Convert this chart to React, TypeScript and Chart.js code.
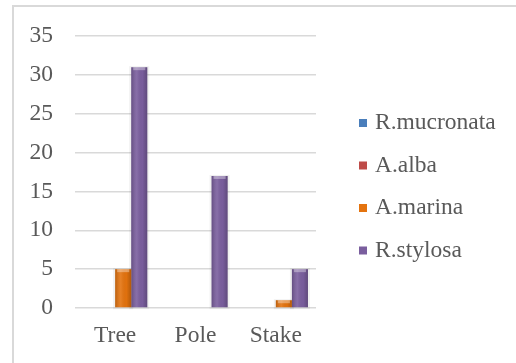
import React, { useEffect, useRef } from "react";
import { Chart, registerables } from "chart.js";

Chart.register(...registerables);

const categories = ["Tree", "Pole", "Stake"];
const seriesNames = ["R.mucronata", "A.alba", "A.marina", "R.stylosa"];
const rMucronata = [0, 0, 0];
const aAlba = [0, 0, 0];
const aMarina = [5, 0, 1];
const rStylosa = [31, 17, 5];
const yTicks = [0, 5, 10, 15, 20, 25, 30, 35];

const colors = ["#4A7EBB", "#BE4B48", "#E4730E", "#7A5E9E"];
const FONT = '"Liberation Serif", "Times New Roman", serif';
const TEXT = "#595959";
const FS = 23.5;

const framePlugin = {
  id: "frame",
  beforeDraw(chart: any) {
    const ctx = chart.ctx;
    ctx.save();
    ctx.fillStyle = "#ffffff";
    ctx.fillRect(0, 0, chart.width, chart.height);
    ctx.strokeStyle = "#d9d9d9";
    ctx.lineWidth = 2;
    ctx.strokeRect(13, 6, chart.width + 20, chart.height + 20);
    ctx.restore();
  },
};

const shadePlugin = {
  id: "shade",
  beforeDatasetsDraw(chart: any) {
    const ctx = chart.ctx;
    ctx.save();
    chart.data.datasets.forEach((_ds: any, i: number) => {
      const meta = chart.getDatasetMeta(i);
      meta.data.forEach((bar: any) => {
        const h = bar.base - bar.y;
        if (h <= 0.5) return;
        const l = bar.x - bar.width / 2;
        ctx.fillStyle = "rgba(0,0,0,0.06)";
        ctx.fillRect(l - 2, bar.y - 1, bar.width + 4, h + 3);
      });
    });
    ctx.restore();
  },
  afterDatasetsDraw(chart: any) {
    const ctx = chart.ctx;
    ctx.save();
    chart.data.datasets.forEach((_ds: any, i: number) => {
      const meta = chart.getDatasetMeta(i);
      meta.data.forEach((bar: any) => {
        const h = bar.base - bar.y;
        if (h <= 0.5) return;
        const l = bar.x - bar.width / 2;
        const g = ctx.createLinearGradient(l, 0, l + bar.width, 0);
        g.addColorStop(0, "rgba(0,0,0,0.18)");
        g.addColorStop(0.35, "rgba(255,255,255,0.10)");
        g.addColorStop(0.7, "rgba(0,0,0,0.02)");
        g.addColorStop(1, "rgba(0,0,0,0.22)");
        ctx.fillStyle = g;
        ctx.fillRect(l, bar.y, bar.width, h);
        ctx.fillStyle = "rgba(255,255,255,0.35)";
        ctx.fillRect(l + 2, bar.y, bar.width - 4, Math.min(3, h));
      });
    });
    ctx.restore();
  },
};

const legendPlugin = {
  id: "customLegend",
  afterDraw(chart: any) {
    const ctx = chart.ctx;
    ctx.save();
    ctx.font = `${FS}px ${FONT}`;
    ctx.textBaseline = "middle";
    ctx.textAlign = "left";
    const startY = 123;
    const step = 42.5;
    chart.data.datasets.forEach((ds: any, i: number) => {
      const y = startY + i * step;
      ctx.fillStyle = ds.backgroundColor;
      ctx.fillRect(359, y - 4, 8, 8);
      ctx.fillStyle = TEXT;
      ctx.fillText(ds.label, 375, y);
    });
    ctx.restore();
  },
};

export default function App() {
  const ref = useRef<HTMLCanvasElement | null>(null);

  useEffect(() => {
    if (!ref.current) return;
    const data = [rMucronata, aAlba, aMarina, rStylosa];
    const chart = new Chart(ref.current, {
      type: "bar",
      data: {
        labels: categories,
        datasets: seriesNames.map((name, i) => ({
          label: name,
          data: data[i],
          backgroundColor: colors[i],
          borderWidth: 0,
          categoryPercentage: 0.8,
          barPercentage: 1,
        })),
      },
      options: {
        animation: false,
        responsive: false,
        layout: { padding: { top: 35, right: 200, bottom: 0, left: 0 } },
        plugins: {
          legend: { display: false },
          tooltip: { enabled: false },
        },
        scales: {
          x: {
            grid: { display: false, drawTicks: false },
            border: { display: false },
            ticks: {
              color: TEXT,
              font: { family: FONT, size: FS },
              padding: 14,
            },
            afterFit(scale: any) {
              scale.height = 55;
            },
          },
          y: {
            min: 0,
            max: 35,
            afterBuildTicks(scale: any) {
              scale.ticks = yTicks.map((v) => ({ value: v }));
            },
            grid: { color: "#d9d9d9", lineWidth: 1.5, drawTicks: false },
            border: { display: false },
            ticks: {
              color: TEXT,
              font: { family: FONT, size: FS },
              padding: 22,
            },
            afterFit(scale: any) {
              scale.width = 75;
            },
          },
        },
      },
      plugins: [framePlugin, shadePlugin, legendPlugin],
    });
    return () => chart.destroy();
  }, []);

  return (
    <div style={{ position: "absolute", left: 0, top: 0, width: 516, height: 363 }}>
      <canvas ref={ref} width={516} height={363} />
    </div>
  );
}
